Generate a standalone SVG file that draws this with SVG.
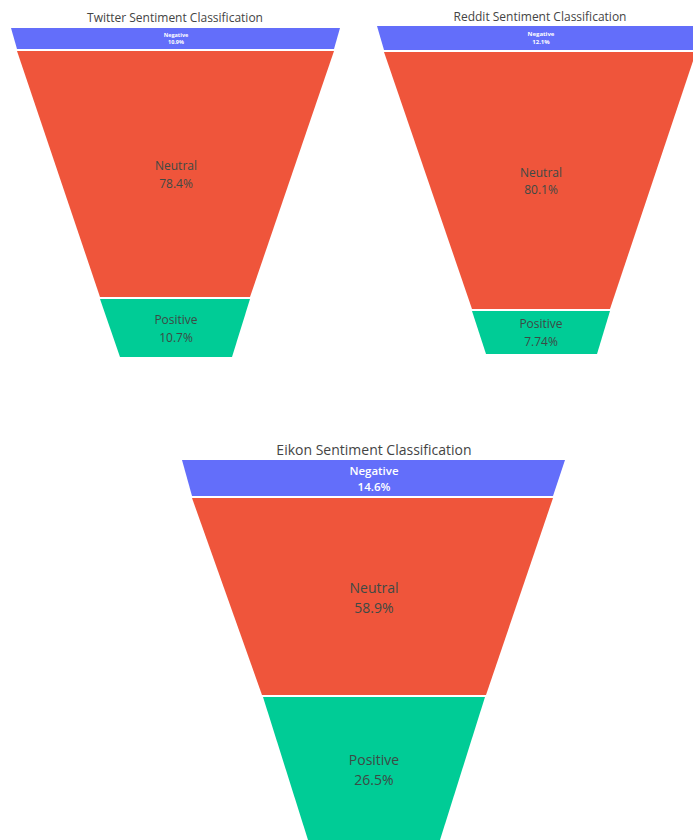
<svg xmlns="http://www.w3.org/2000/svg" width="693" height="840" viewBox="0 0 693 840">
<style>
.neg{fill:#636efa}
.neu{fill:#ef553b}
.pos{fill:#00cc96}
.title{font-family:"Open Sans","Liberation Sans",sans-serif;fill:#444;text-anchor:middle}
.lbl{font-family:"Open Sans","Liberation Sans",sans-serif;text-anchor:middle}
.w{fill:#ffffff}
.d{fill:#3d4a45}
</style>
<rect width="693" height="840" fill="#ffffff"/>
<g id="twitter">
<text class="title" x="175" y="22" font-size="12">Twitter Sentiment Classification</text>
<polygon class="neg" points="11,28 340,28 334,49 17,49"/>
<polygon class="neu" points="17,51 334,51 250,297 100,297"/>
<polygon class="pos" points="100,299 250,299 232,357 120,357"/>
<text class="lbl w" x="176" y="37" font-size="5.5" font-weight="bold">Negative</text>
<text class="lbl w" x="176" y="44" font-size="5.5" font-weight="bold">10.9%</text>
<text class="lbl d" x="176" y="170" font-size="12">Neutral</text>
<text class="lbl d" x="176" y="188" font-size="12">78.4%</text>
<text class="lbl d" x="176" y="324" font-size="12">Positive</text>
<text class="lbl d" x="176" y="342" font-size="12">10.7%</text>
</g>
<g id="reddit">
<text class="title" x="540" y="21" font-size="12">Reddit Sentiment Classification</text>
<polygon class="neg" points="377,26 703,26 696,50 384,50"/>
<polygon class="neu" points="384,52 696,52 610,309 472,309"/>
<polygon class="pos" points="472,311 610,311 597,354 486,354"/>
<text class="lbl w" x="541" y="36" font-size="6" font-weight="bold">Negative</text>
<text class="lbl w" x="541" y="44" font-size="6" font-weight="bold">12.1%</text>
<text class="lbl d" x="541" y="177" font-size="12">Neutral</text>
<text class="lbl d" x="541" y="194" font-size="12">80.1%</text>
<text class="lbl d" x="541" y="328" font-size="12">Positive</text>
<text class="lbl d" x="541" y="346" font-size="12">7.74%</text>
</g>
<g id="eikon">
<text class="title" x="374" y="455" font-size="14">Eikon Sentiment Classification</text>
<polygon class="neg" points="182,460 565,460 553,496 192,496"/>
<polygon class="neu" points="192,498 553,498 486,695 262,695"/>
<polygon class="pos" points="263,697 485,697 440,840 308,840"/>
<text class="lbl w" x="374" y="475" font-size="11.5" font-weight="600">Negative</text>
<text class="lbl w" x="374" y="491" font-size="11.5" font-weight="600">14.6%</text>
<text class="lbl d" x="374" y="593" font-size="14">Neutral</text>
<text class="lbl d" x="374" y="613" font-size="14">58.9%</text>
<text class="lbl d" x="374" y="765" font-size="14">Positive</text>
<text class="lbl d" x="374" y="785" font-size="14">26.5%</text>
</g>
<g id="connectors"></g>
</svg>
